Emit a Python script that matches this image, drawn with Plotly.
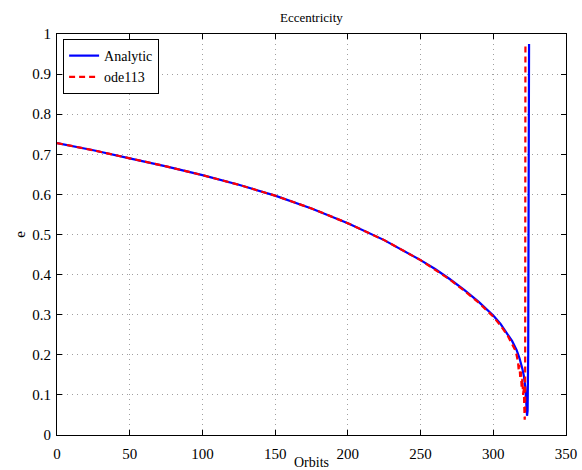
import plotly.graph_objects as go

# Analytic solution
orbits_analytic = [0, 25, 50, 75, 100, 125, 150, 175, 200, 225, 250, 260, 270, 280, 290,
                   300, 305, 310, 313, 316, 318, 320, 321, 322, 322.6, 323.2, 323.6, 324.0, 324.6]
e_analytic = [0.728, 0.710, 0.690, 0.670, 0.648, 0.624, 0.597, 0.565, 0.528, 0.486, 0.436,
              0.414, 0.389, 0.362, 0.332, 0.298, 0.277, 0.252, 0.234, 0.212, 0.192, 0.165,
              0.148, 0.120, 0.090, 0.048, 0.060, 0.200, 0.975]

# ode113 solution
orbits_ode = [0, 25, 50, 75, 100, 125, 150, 175, 200, 225, 250, 260, 270, 280, 290,
              300, 305, 310, 313, 315, 316, 317, 317.5, 318, 318.5, 319, 319.5, 320, 320.5,
              321, 321.3, 321.6, 321.9, 322.1]
e_ode = [0.728, 0.710, 0.690, 0.670, 0.648, 0.624, 0.597, 0.565, 0.528, 0.486, 0.436,
         0.413, 0.388, 0.360, 0.330, 0.295, 0.273, 0.247, 0.226, 0.212, 0.200, 0.182, 0.160,
         0.175, 0.145, 0.158, 0.118, 0.140, 0.100, 0.120, 0.070, 0.038, 0.060, 0.975]

x_ticks = [0, 50, 100, 150, 200, 250, 300, 350]
y_ticks = [0, 0.1, 0.2, 0.3, 0.4, 0.5, 0.6, 0.7, 0.8, 0.9, 1]
y_tick_text = ["0", "0.1", "0.2", "0.3", "0.4", "0.5", "0.6", "0.7", "0.8", "0.9", "1"]

FONT = "Liberation Serif"

fig = go.Figure()
fig.add_trace(go.Scatter(x=orbits_analytic, y=e_analytic, mode="lines", name="Analytic",
                         line=dict(color="#0000ff", width=2.2)))
fig.add_trace(go.Scatter(x=orbits_ode, y=e_ode, mode="lines", name="ode113",
                         line=dict(color="#ff0000", width=2.2, dash="6px,4px")))

axis_common = dict(
    showline=True, linecolor="black", linewidth=1, mirror="ticks",
    ticks="inside", ticklen=5, tickcolor="black", automargin=False,
    showgrid=True, gridcolor="#a0a0a0", griddash="1px,4px", gridwidth=1,
    zeroline=False, tickfont=dict(family=FONT, size=15, color="black"),
)

fig.update_layout(
    width=582, height=470,
    margin=dict(l=56.5, r=15.7, t=34, b=34.5),
    paper_bgcolor="white", plot_bgcolor="white",
    font=dict(family=FONT, color="black"),
    title=dict(text="Eccentricity", x=0.535, xanchor="center", y=0.962, yanchor="middle",
               font=dict(family=FONT, size=13, color="black")),
    xaxis=dict(range=[0, 350], tickvals=x_ticks, ticklabelstandoff=5,
               title=dict(text="Orbits", font=dict(family=FONT, size=14, color="black"), standoff=7),
               **axis_common),
    yaxis=dict(range=[0, 1], tickvals=y_ticks, ticktext=y_tick_text, ticklabelstandoff=2,
               title=dict(text="e", font=dict(family=FONT, size=15, color="black"), standoff=3),
               **axis_common),
    legend=dict(x=0.012, y=0.9875, xanchor="left", yanchor="top",
                bgcolor="white", bordercolor="black", borderwidth=1,
                font=dict(family=FONT, size=14, color="black"),
                tracegroupgap=0, itemwidth=30),
    showlegend=True,
)

fig.write_html("out.html")
